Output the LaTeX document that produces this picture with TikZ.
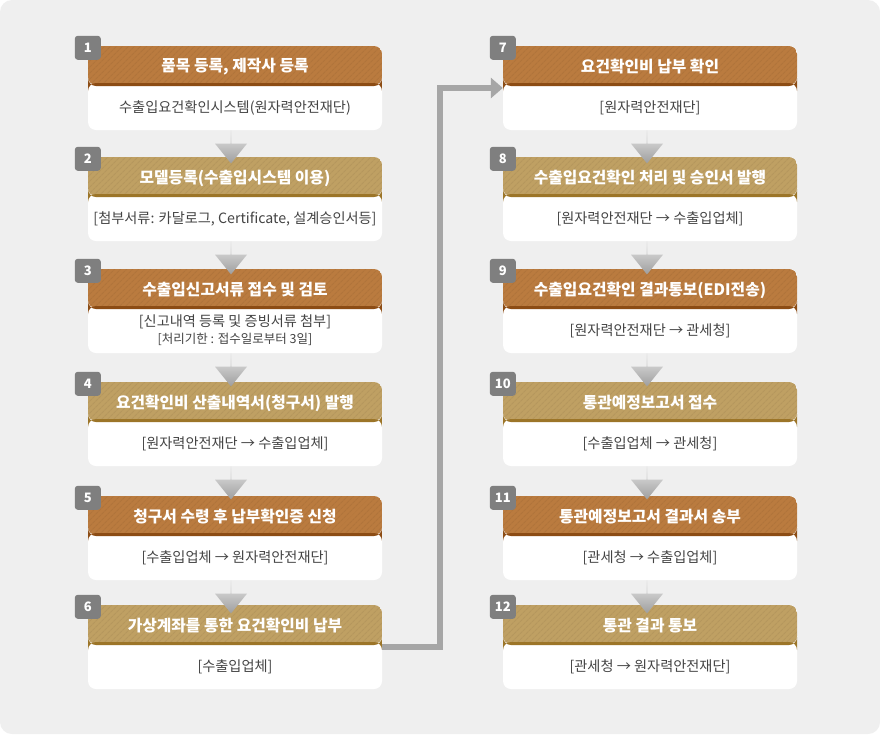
\documentclass[tikz,border=0pt]{standalone}
\usepackage{fontspec}
\setmainfont{Noto Sans CJK KR}
\usepackage{xcolor}
\usetikzlibrary{shapes.arrows, arrows.meta, positioning, patterns.meta}

\definecolor{pagebg}{HTML}{EFEFEF}
\definecolor{hdrA}{HTML}{BA7B3F}
\definecolor{lineA}{HTML}{8C4C14}
\definecolor{hdrB}{HTML}{BFA063}
\definecolor{lineB}{HTML}{9C7528}
\definecolor{bodytext}{HTML}{444444}
\definecolor{badgegray}{HTML}{7F7F7F}
\definecolor{linkgray}{HTML}{A6A6A6}

\begin{document}
\begin{tikzpicture}[x=1pt, y=-1pt,
    card/.style={rectangle, fill=white, rounded corners=8pt, minimum width=294pt, minimum height=84pt, inner sep=0pt,
        path picture={
            \fill[hdr#1] (path picture bounding box.north west) rectangle ([yshift=-39pt]path picture bounding box.north east);
            \fill[pattern={Lines[angle=45, distance=4pt, line width=1.2pt]}, pattern color=black, fill opacity=0.05]
                (path picture bounding box.north west) rectangle ([yshift=-39pt]path picture bounding box.north east);
            \fill[line#1] ([yshift=-37pt]path picture bounding box.north west) rectangle ([yshift=-40pt]path picture bounding box.north east);
        }},
    title/.style={minimum width=294pt, minimum height=39pt, inner sep=0pt, yshift=-1.5pt, text=white, font=\bfseries\fontsize{15.8}{18}\selectfont},
    info/.style={minimum width=294pt, minimum height=45pt, inner sep=0pt, align=center, text=bodytext, font=\fontsize{14.2}{19}\selectfont},
    badge/.style={rectangle, rounded corners=3pt, fill=badgegray, minimum width=26pt, minimum height=24pt, inner sep=0pt, text=white, font=\bfseries\fontsize{13}{13}\selectfont},
    flow/.style={single arrow, shape border rotate=270, minimum height=33pt, minimum width=32pt, single arrow head extend=8pt, single arrow tip angle=78, inner sep=0pt, top color=black!10, bottom color=black!38},
    link/.style={draw=linkgray, line width=5.5pt, -{Triangle[length=12pt, width=20pt]}}
]

% Background
\fill[white] (0,0) rectangle (880,734);
\fill[pagebg, rounded corners=12pt] (0,0) rectangle (880,734);
\useasboundingbox (0,0) rectangle (880,734);

% Left column
\node[card=A] (c1) at (235,88) {};
\node[title, below=0pt of c1.north] (t1) {품목 등록, 제작사 등록};
\node[info, below=0pt of c1.north, yshift=-39pt] (i1) {수출입요건확인시스템(원자력안전재단)};
\node[badge] (n1) at ([yshift=-2pt]c1.north west) {1};

\node[card=B] (c2) at (235,199) {};
\node[title, below=0pt of c2.north] (t2) {모델등록(수출입시스템 이용)};
\node[info, below=0pt of c2.north, yshift=-39pt] (i2) {[첨부서류: 카달로그, Certificate, 설계승인서등]};
\node[badge] (n2) at ([yshift=-2pt]c2.north west) {2};

\node[card=A] (c3) at (235,311) {};
\node[title, below=0pt of c3.north] (t3) {수출입신고서류 접수 및 검토};
\node[info, below=0pt of c3.north, yshift=-39pt] (i3) {[신고내역 등록 및 증빙서류 첨부]\\[-2pt]{\fontsize{12.5}{14}\selectfont [처리기한 : 접수일로부터 3일]}};
\node[badge] (n3) at ([yshift=-2pt]c3.north west) {3};

\node[card=B] (c4) at (235,424) {};
\node[title, below=0pt of c4.north] (t4) {요건확인비 산출내역서(청구서) 발행};
\node[info, below=0pt of c4.north, yshift=-39pt] (i4) {[원자력안전재단 → 수출입업체]};
\node[badge] (n4) at ([yshift=-2pt]c4.north west) {4};

\node[card=A] (c5) at (235,538) {};
\node[title, below=0pt of c5.north] (t5) {청구서 수령 후 납부확인증 신청};
\node[info, below=0pt of c5.north, yshift=-39pt] (i5) {[수출입업체 → 원자력안전재단]};
\node[badge] (n5) at ([yshift=-2pt]c5.north west) {5};

\node[card=B] (c6) at (235,647) {};
\node[title, below=0pt of c6.north] (t6) {가상계좌를 통한 요건확인비 납부};
\node[info, below=0pt of c6.north, yshift=-39pt] (i6) {[수출입업체]};
\node[badge] (n6) at ([yshift=-2pt]c6.north west) {6};

% Right column
\node[card=A] (c7) at (650,88) {};
\node[title, below=0pt of c7.north] (t7) {요건확인비 납부 확인};
\node[info, below=0pt of c7.north, yshift=-39pt] (i7) {[원자력안전재단]};
\node[badge] (n7) at ([yshift=-2pt]c7.north west) {7};

\node[card=B] (c8) at (650,199) {};
\node[title, below=0pt of c8.north] (t8) {수출입요건확인 처리 및 승인서 발행};
\node[info, below=0pt of c8.north, yshift=-39pt] (i8) {[원자력안전재단 → 수출입업체]};
\node[badge] (n8) at ([yshift=-2pt]c8.north west) {8};

\node[card=A] (c9) at (650,311) {};
\node[title, below=0pt of c9.north] (t9) {수출입요건확인 결과통보(EDI전송)};
\node[info, below=0pt of c9.north, yshift=-39pt] (i9) {[원자력안전재단 → 관세청]};
\node[badge] (n9) at ([yshift=-2pt]c9.north west) {9};

\node[card=B] (c10) at (650,424) {};
\node[title, below=0pt of c10.north] (t10) {통관예정보고서 접수};
\node[info, below=0pt of c10.north, yshift=-39pt] (i10) {[수출입업체 → 관세청]};
\node[badge] (n10) at ([yshift=-2pt]c10.north west) {10};

\node[card=A] (c11) at (650,538) {};
\node[title, below=0pt of c11.north] (t11) {통관예정보고서 결과서 송부};
\node[info, below=0pt of c11.north, yshift=-39pt] (i11) {[관세청 → 수출입업체]};
\node[badge] (n11) at ([yshift=-2pt]c11.north west) {11};

\node[card=B] (c12) at (650,647) {};
\node[title, below=0pt of c12.north] (t12) {통관 결과 통보};
\node[info, below=0pt of c12.north, yshift=-39pt] (i12) {[관세청 → 원자력안전재단]};
\node[badge] (n12) at ([yshift=-2pt]c12.north west) {12};

% Down arrows
\node[flow, anchor=tail] (a1) at ([xshift=-4pt]c1.south) {};
\node[flow, anchor=tail] (a2) at ([xshift=-4pt]c2.south) {};
\node[flow, anchor=tail] (a3) at ([xshift=-4pt]c3.south) {};
\node[flow, anchor=tail] (a4) at ([xshift=-4pt]c4.south) {};
\node[flow, anchor=tail] (a5) at ([xshift=-4pt]c5.south) {};
\node[flow, anchor=tail] (a7) at ([xshift=-3pt]c7.south) {};
\node[flow, anchor=tail] (a8) at ([xshift=-3pt]c8.south) {};
\node[flow, anchor=tail] (a9) at ([xshift=-3pt]c9.south) {};
\node[flow, anchor=tail] (a10) at ([xshift=-3pt]c10.south) {};
\node[flow, anchor=tail] (a11) at ([xshift=-3pt]c11.south) {};

% Column change
\draw[link] (c6.east) -- ++(58,0) |- (c7.west);

\end{tikzpicture}
\end{document}
